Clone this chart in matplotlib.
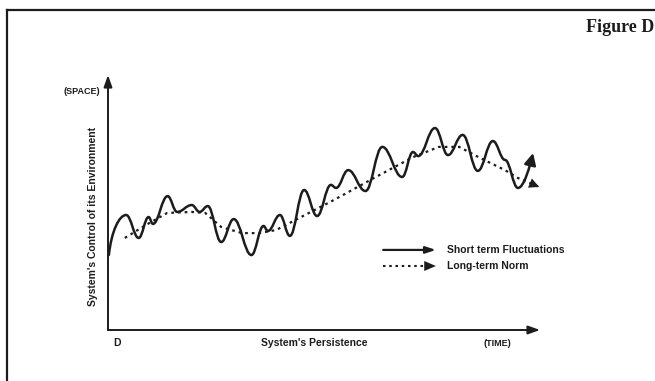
import matplotlib
matplotlib.use("Agg")
import matplotlib.pyplot as plt
from matplotlib.path import Path
from matplotlib.patches import FancyArrowPatch
from matplotlib.lines import Line2D

# short-term fluctuations: turning points of the wavy curve (time, control)
short_t = [0.2, 4.2, 7.1, 9.4, 10.4, 13.8, 16.0, 19.4, 21.2, 23.1, 26.2, 29.1,
           33.2, 36.0, 37.0, 39.8, 42.1, 45.4, 48.4, 51.6, 52.8, 55.6, 59.6,
           63.5, 68.1, 70.6, 71.8, 75.7, 78.7, 82.1, 85.6, 89.1, 91.9, 94.9, 98.4]
short_v = [29.4, 45.1, 36.1, 44.3, 41.6, 52.5, 46.3, 49.0, 46.3, 48.6, 34.5, 43.5,
           29.4, 40.8, 38.8, 45.1, 36.9, 54.9, 44.7, 56.9, 55.7, 62.7, 54.5,
           71.8, 60.0, 69.8, 68.2, 79.2, 68.6, 76.5, 62.4, 74.1, 66.7, 55.7, 69.4]

# long-term norm (dotted)
norm_t = [3.9, 8.8, 13.7, 19.4, 22.5, 26.2, 31.0, 35.0, 38.9, 44.7, 52.3, 62.0,
          70.6, 76.6, 81.3, 86.1, 91.9, 94.9, 99.8]
norm_v = [36.1, 41.2, 45.9, 46.3, 45.9, 40.4, 38.0, 38.0, 39.2, 44.3, 51.0, 60.0,
          67.8, 71.8, 71.8, 67.5, 62.7, 59.6, 56.1]

legend_labels = ["Short term Fluctuations", "Long-term Norm"]

ink = "#1c1c1c"
W, H = 655, 381


def fx(px):
    return px / W


def fy(py):
    return 1 - py / H


def wave_path(xs, ys, k=0.4):
    # smooth wave through the turning points (flat tangent at each one)
    verts = [(xs[0], ys[0])]
    codes = [Path.MOVETO]
    n = len(xs)
    for i in range(1, n):
        x0, y0, x1, y1 = xs[i - 1], ys[i - 1], xs[i], ys[i]
        dx, dy = x1 - x0, y1 - y0
        c1 = (x0 + 0.15 * dx, y0 + 0.6 * dy) if i == 1 else (x0 + k * dx, y0)
        c2 = (x1 - 0.2 * dx, y1 - 0.35 * dy) if i == n - 1 else (x1 - k * dx, y1)
        verts += [c1, c2, (x1, y1)]
        codes += [Path.CURVE4] * 3
    return Path(verts, codes)


fig = plt.figure(figsize=(6.55, 3.81), dpi=100)
ax = fig.add_axes([fx(108), fy(330), fx(540) - fx(108), fy(75) - fy(330)])
ax.set_xlim(0, 100)
ax.set_ylim(0, 100)
ax.axis("off")

# axes with arrows
axis_arrow = dict(arrowstyle="-|>,head_length=0.7,head_width=0.25", lw=1.4,
                  color=ink, shrinkA=0, shrinkB=0, mutation_scale=10)
ax.annotate("", xy=(0, 1), xytext=(0, 0), xycoords="axes fraction", arrowprops=axis_arrow)
ax.annotate("", xy=(1, 0), xytext=(0, 0), xycoords="axes fraction", arrowprops=axis_arrow)

# short-term fluctuations
wave = FancyArrowPatch(path=wave_path(short_t, short_v), transform=ax.transData,
                       arrowstyle="-|>,head_length=0.5,head_width=0.25",
                       mutation_scale=14, lw=1.8, color=ink)
ax.add_patch(wave)

# long-term norm
ax.plot(norm_t, norm_v, linestyle=(0, (1.2, 1.8)), lw=1.6, color=ink)
ax.annotate("", xy=(norm_t[-1], norm_v[-1]), xytext=(norm_t[-2], norm_v[-2]),
            arrowprops=dict(arrowstyle="-|>,head_length=0.6,head_width=0.3", lw=0,
                            color=ink, shrinkA=0, shrinkB=0, mutation_scale=12))

# legend
ax.annotate("", xy=(0.759, 0.314), xytext=(0.637, 0.314), xycoords="axes fraction",
            arrowprops=dict(arrowstyle="-|>,head_length=0.6,head_width=0.2", lw=1.6,
                            color=ink, shrinkA=0, shrinkB=0, mutation_scale=10))
ax.plot([0.637, 0.735], [0.251, 0.251], transform=ax.transAxes,
        linestyle=(0, (1.2, 1.8)), lw=1.5, color=ink)
ax.annotate("", xy=(0.759, 0.251), xytext=(0.72, 0.251), xycoords="axes fraction",
            arrowprops=dict(arrowstyle="-|>,head_length=0.7,head_width=0.3", lw=0,
                            color=ink, shrinkA=0, shrinkB=0, mutation_scale=12))

lab = dict(family="Liberation Sans", weight="bold", color=ink)
fig.text(fx(447), fy(250), legend_labels[0], fontsize=7.5, va="center", **lab)
fig.text(fx(447), fy(266), legend_labels[1], fontsize=7.5, va="center", **lab)

# labels
fig.text(fx(100), fy(92), "(SPACE)", fontsize=6.5, ha="right", va="center", **lab)
fig.text(fx(93), fy(216), "System's Control of its Environment", fontsize=7.5,
         rotation=90, ha="center", va="center", **lab)
fig.text(fx(117), fy(343), "D", fontsize=7.5, ha="center", va="center", **lab)
fig.text(fx(314), fy(343), "System's Persistence", fontsize=7.5, ha="center", va="center", **lab)
fig.text(fx(497), fy(343), "(TIME)", fontsize=6.5, ha="center", va="center", **lab)
fig.text(fx(654), fy(28), "Figure D", fontsize=13, ha="right", va="center",
         family="Liberation Serif", weight="bold", color=ink)

# scanned page frame
fig.add_artist(Line2D([fx(7), 1], [fy(10), fy(10)], transform=fig.transFigure, color=ink, lw=1.6))
fig.add_artist(Line2D([fx(7), fx(7)], [0, fy(10)], transform=fig.transFigure, color=ink, lw=1.6))

fig.savefig("out.png", dpi=100)
